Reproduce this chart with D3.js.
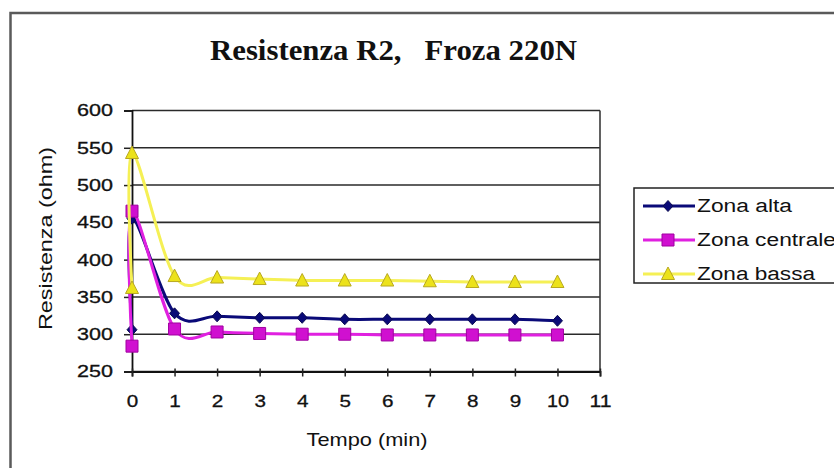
<!DOCTYPE html>
<html>
<head>
<meta charset="utf-8">
<script src="https://cdn.jsdelivr.net/npm/d3@7"></script>
<style>
  html, body { margin: 0; padding: 0; background: #fff; overflow: hidden; }
  svg { display: block; }
  text { font-family: "Liberation Sans", Arial, sans-serif; fill: #111; }
</style>
</head>
<body>
<svg id="chart" width="834" height="468"></svg>
<script>
// Time points (minutes); the first two readings are both taken at t = 0
const tempo = [0, 0, 1, 2, 3, 4, 5, 6, 7, 8, 9, 10];
const zonaAlta     = [306, 455, 328, 324, 322, 322, 320, 320, 320, 320, 320, 318];
const zonaCentrale = [284, 465, 307, 303, 301, 300, 300, 299, 299, 299, 299, 299];
const zonaBassa    = [362, 543, 378, 376, 374, 372, 372, 372, 371, 370, 370, 370];
const seriesNames  = ["Zona alta", "Zona centrale", "Zona bassa"];
const xTicks = [0, 1, 2, 3, 4, 5, 6, 7, 8, 9, 10, 11];
const yTicks = [250, 300, 350, 400, 450, 500, 550, 600];

const svg = d3.select("#chart");

// outer chart frame (extends past the right and bottom edges)
svg.append("rect")
  .attr("x", 10.5).attr("y", 13).attr("width", 900).attr("height", 500)
  .attr("fill", "#fff").attr("stroke", "#5a5a5a").attr("stroke-width", 2.5);

const x = d3.scaleLinear().domain([0, 11]).range([132, 600]);
const y = d3.scaleLinear().domain([250, 600]).range([371.5, 110.5]);

// title
svg.append("text")
  .attr("x", 393.5).attr("y", 60)
  .attr("text-anchor", "middle")
  .attr("textLength", 367).attr("lengthAdjust", "spacingAndGlyphs")
  .style("white-space", "pre")
  .style("font-family", "'Liberation Serif', 'DejaVu Serif', serif")
  .style("font-weight", "bold").style("font-size", "30px")
  .text("Resistenza R2,   Froza 220N");

// horizontal gridlines
svg.append("g").selectAll("line").data(yTicks).join("line")
  .attr("x1", x(0)).attr("x2", x(11))
  .attr("y1", d => y(d)).attr("y2", d => y(d))
  .attr("stroke", "#2a2a2a").attr("stroke-width", 1.6);

// plot-area right edge
svg.append("line")
  .attr("x1", x(11)).attr("x2", x(11)).attr("y1", y(600)).attr("y2", y(250))
  .attr("stroke", "#3a3a3a").attr("stroke-width", 1.6);

// y axis
const yAxis = svg.append("g").attr("transform", `translate(${x(0)},0)`)
  .call(d3.axisLeft(y).tickValues(yTicks).tickSize(8).tickPadding(11));
yAxis.select(".domain").attr("stroke", "#111").attr("stroke-width", 1.8);
yAxis.selectAll(".tick line").attr("stroke", "#222").attr("stroke-width", 1.5);
yAxis.selectAll(".tick text")
  .style("font-size", "17px").attr("fill", "#111")
  .attr("stroke", "#111").attr("stroke-width", 0.3)
  .attr("textLength", 36).attr("lengthAdjust", "spacingAndGlyphs")
  .attr("x", -19);

// x axis
const xAxis = svg.append("g").attr("transform", `translate(0,${y(250)})`)
  .call(d3.axisBottom(x).tickValues(xTicks).tickSize(5).tickPadding(18));
xAxis.select(".domain").attr("stroke", "#111").attr("stroke-width", 1.8);
xAxis.selectAll(".tick line").attr("y1", -3).attr("stroke", "#222").attr("stroke-width", 1.5);
xAxis.selectAll(".tick text")
  .style("font-size", "17px").attr("fill", "#111")
  .attr("stroke", "#111").attr("stroke-width", 0.3)
  .attr("textLength", d => d >= 10 ? 22 : 11.5).attr("lengthAdjust", "spacingAndGlyphs");

// axis titles
svg.append("text")
  .attr("x", 367).attr("y", 446).attr("text-anchor", "middle")
  .attr("textLength", 121).attr("lengthAdjust", "spacingAndGlyphs")
  .style("font-size", "19px")
  .text("Tempo (min)");

svg.append("text")
  .attr("transform", "translate(52,238.5) rotate(-90)")
  .attr("text-anchor", "middle")
  .attr("textLength", 183).attr("lengthAdjust", "spacingAndGlyphs")
  .style("font-size", "18px")
  .text("Resistenza (ohm)");

// series
const series = [
  { name: seriesNames[0], values: zonaAlta, line: "#0a0a78", fill: "#0a0a78", stroke: "#0a0a50", shape: "diamond" },
  { name: seriesNames[1], values: zonaCentrale, line: "#e020e0", fill: "#d010d0", stroke: "#a000a0", shape: "square" },
  { name: seriesNames[2], values: zonaBassa, line: "#f5f055", fill: "#ece21a", stroke: "#b8a820", shape: "triangle" }
];

const lineGen = d3.line()
  .x(d => x(d[0])).y(d => y(d[1]))
  .curve(d3.curveCardinal.tension(0));

function markerPath(shape) {
  if (shape === "diamond") return "M0,-5.5L5,0L0,5.5L-5,0Z";
  if (shape === "square") return "M-6,-6L6,-6L6,6L-6,6Z";
  return "M0,-7L6.5,5.5L-6.5,5.5Z";
}

series.forEach(s => {
  const pts = tempo.map((t, i) => [t, s.values[i]]);
  const g = svg.append("g");
  g.append("path")
    .attr("d", lineGen(pts))
    .attr("fill", "none").attr("stroke", s.line).attr("stroke-width", 3)
    .attr("stroke-linejoin", "round");
  g.selectAll("path.m").data(pts).join("path")
    .attr("class", "m")
    .attr("transform", d => `translate(${x(d[0])},${y(d[1])})`)
    .attr("d", markerPath(s.shape))
    .attr("fill", s.fill).attr("stroke", s.stroke).attr("stroke-width", 1);
});

// legend
const legend = svg.append("g");
legend.append("rect")
  .attr("x", 634).attr("y", 188).attr("width", 300).attr("height", 95)
  .attr("fill", "#fff").attr("stroke", "#222").attr("stroke-width", 1.5);

const legendRowY = d3.scalePoint().domain(seriesNames).range([206, 274]);
const legendWidths = d3.scaleOrdinal().domain(seriesNames).range([95, 139, 118]);

series.forEach(s => {
  const ly = legendRowY(s.name);
  legend.append("line")
    .attr("x1", 643).attr("x2", 695).attr("y1", ly).attr("y2", ly)
    .attr("stroke", s.line).attr("stroke-width", 3);
  legend.append("path")
    .attr("transform", `translate(668,${ly})`)
    .attr("d", markerPath(s.shape))
    .attr("fill", s.fill).attr("stroke", s.stroke).attr("stroke-width", 1);
  legend.append("text")
    .attr("x", 697).attr("y", ly).attr("dy", "0.36em")
    .attr("textLength", legendWidths(s.name)).attr("lengthAdjust", "spacingAndGlyphs")
    .style("font-size", "18px")
    .text(s.name);
});
</script>
</body>
</html>
